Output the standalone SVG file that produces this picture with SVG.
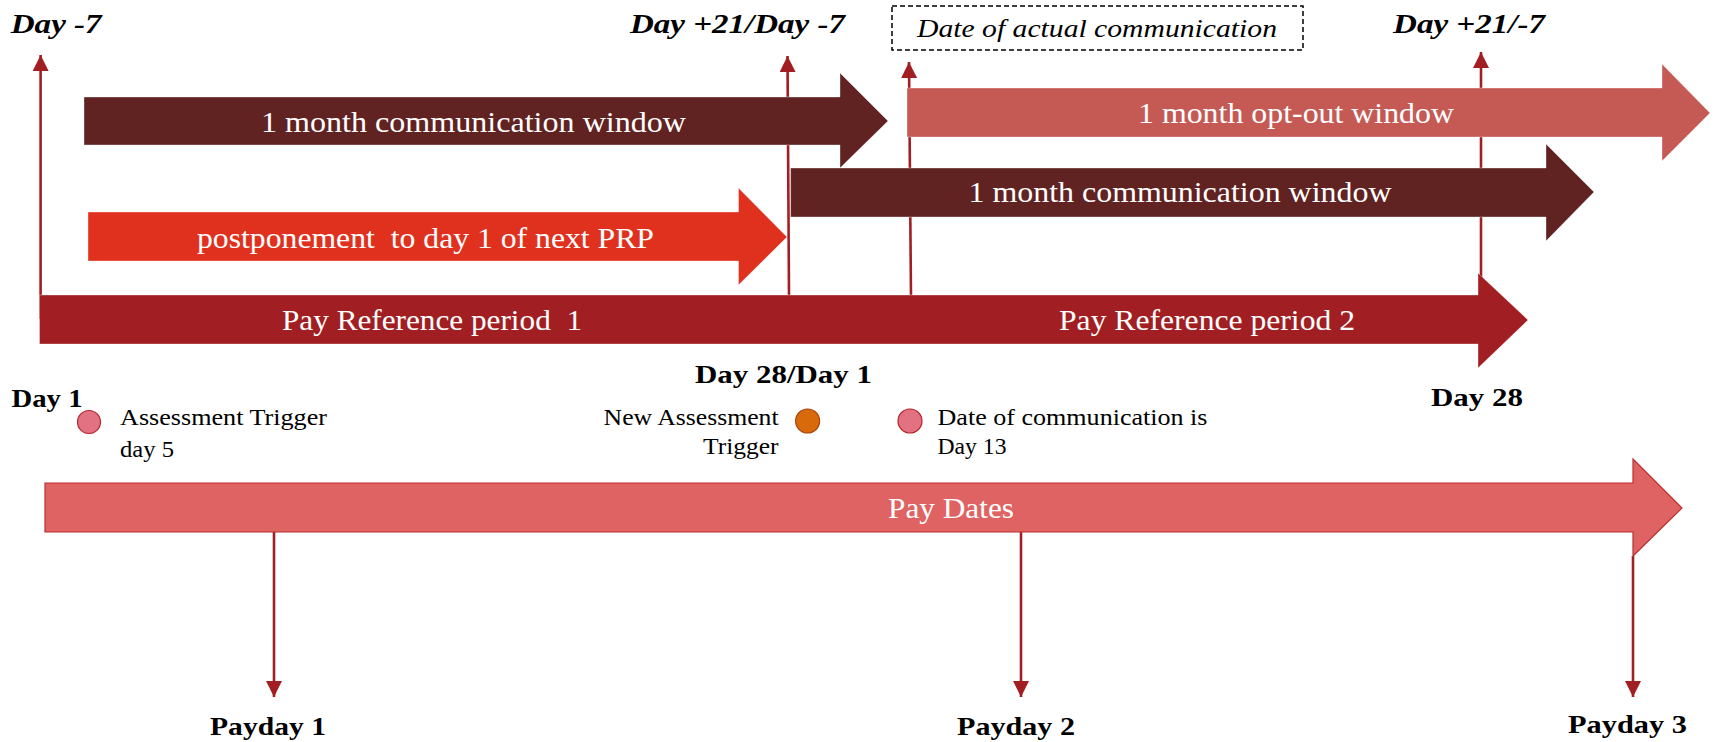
<svg xmlns="http://www.w3.org/2000/svg" width="1715" height="742" viewBox="0 0 1715 742">
  <defs>
    <marker id="tip" viewBox="0 0 16 16" refX="16" refY="8" markerWidth="16" markerHeight="16" markerUnits="userSpaceOnUse" orient="auto">
      <path d="M0,0 L16,8 L0,16 z" fill="#A11F22"/>
    </marker>
    <style>
      .conn { stroke: #A11F22; stroke-width: 2.6; fill: none; marker-end: url(#tip); }
      .bar { stroke: #ffffff; stroke-opacity: 0.35; stroke-width: 1; }
      .barText { font-family: "Liberation Serif", "Times New Roman", serif; font-size: 30px; fill: #ffffff; }
      .top { font-family: "Liberation Serif", "Times New Roman", serif; font-size: 28px; font-weight: bold; font-style: italic; fill: #000; }
      .day { font-family: "Liberation Serif", "Times New Roman", serif; font-size: 26px; font-weight: bold; fill: #000; }
      .note { font-family: "Liberation Serif", "Times New Roman", serif; font-size: 23px; fill: #000; }
      .dot { stroke-width: 1.2; }
    </style>
  </defs>
  <rect width="1715" height="742" fill="#ffffff"/>

  <!-- vertical markers and payday pointers -->
  <g id="connectors">
    <line class="conn" x1="40.6" y1="319" x2="40.6" y2="55"/>
    <line class="conn" x1="789" y1="295" x2="787.5" y2="56"/>
    <line class="conn" x1="911" y1="298" x2="909" y2="62"/>
    <line class="conn" x1="1481" y1="300" x2="1481" y2="52"/>
    <line class="conn" x1="274" y1="532" x2="274" y2="697"/>
    <line class="conn" x1="1021" y1="532" x2="1021" y2="697"/>
    <line class="conn" x1="1633" y1="556" x2="1633" y2="697"/>
  </g>

  <!-- timeline bars -->
  <g id="comm-window-1">
    <polygon class="bar" fill="#612222" points="84,97 840,97 840,73 888,121 840,168 840,145 84,145"/>
    <text class="barText" x="261" y="132" textLength="425" lengthAdjust="spacingAndGlyphs">1 month communication window</text>
  </g>
  <g id="postponement">
    <polygon class="bar" fill="#E0311F" points="88,212 738.5,212 738.5,188 787,237 738.5,285 738.5,261 88,261"/>
    <text class="barText" x="197" y="248" textLength="457" lengthAdjust="spacingAndGlyphs" xml:space="preserve">postponement  to day 1 of next PRP</text>
  </g>
  <g id="opt-out-window">
    <polygon class="bar" fill="#C55A55" points="907,88 1662,88 1662,64 1710,113 1662,161 1662,137 907,137"/>
    <text class="barText" x="1138" y="123" textLength="316" lengthAdjust="spacingAndGlyphs">1 month opt-out window</text>
  </g>
  <g id="comm-window-2">
    <polygon class="bar" fill="#612222" points="790.6,168 1546,168 1546,144 1594,192 1546,241 1546,217 790.6,217"/>
    <text class="barText" x="968.5" y="202" textLength="423" lengthAdjust="spacingAndGlyphs">1 month communication window</text>
  </g>
  <g id="pay-reference-periods">
    <polygon class="bar" fill="#A11F22" points="39.5,295 1478,295 1478,273 1528,320 1478,368 1478,344 39.5,344"/>
    <text class="barText" x="282" y="330" textLength="300" lengthAdjust="spacingAndGlyphs" xml:space="preserve">Pay Reference period  1</text>
    <text class="barText" x="1059" y="330" textLength="296" lengthAdjust="spacingAndGlyphs">Pay Reference period 2</text>
  </g>
  <g id="pay-dates">
    <polygon fill="#E06363" stroke="#B8302F" stroke-width="1.2" points="45,483 1633,483 1633,459 1682,508 1633,556 1633,532 45,532"/>
    <text class="barText" x="888" y="518" textLength="126" lengthAdjust="spacingAndGlyphs">Pay Dates</text>
  </g>

  <!-- day labels above the timeline -->
  <g id="label-day-minus7">
    <text class="top" x="10.7" y="33" textLength="91" lengthAdjust="spacingAndGlyphs">Day -7</text>
  </g>
  <g id="label-day21-day-minus7">
    <text class="top" x="630" y="33" textLength="215" lengthAdjust="spacingAndGlyphs">Day +21/Day -7</text>
  </g>
  <g id="label-actual-communication">
    <rect x="892" y="6" width="411" height="44" fill="none" stroke="#000" stroke-width="1.5" stroke-dasharray="5 3"/>
    <text x="917" y="37" font-family="Liberation Serif, Times New Roman, serif" font-size="26" font-style="italic" fill="#000" textLength="360" lengthAdjust="spacingAndGlyphs">Date of actual communication</text>
  </g>
  <g id="label-day21-minus7">
    <text class="top" x="1393" y="33" textLength="152" lengthAdjust="spacingAndGlyphs">Day +21/-7</text>
  </g>

  <!-- day labels below the timeline -->
  <g id="label-day1">
    <text class="day" x="11.5" y="407" font-size="25" textLength="71" lengthAdjust="spacingAndGlyphs">Day 1</text>
  </g>
  <g id="label-day28-day1">
    <text class="day" x="695" y="383" textLength="177" lengthAdjust="spacingAndGlyphs">Day 28/Day 1</text>
  </g>
  <g id="label-day28">
    <text class="day" x="1431" y="406" textLength="92" lengthAdjust="spacingAndGlyphs">Day 28</text>
  </g>

  <!-- trigger notes -->
  <g id="assessment-trigger">
    <circle class="dot" cx="89" cy="422" r="11.5" fill="#E27282" stroke="#B5262B"/>
    <text class="note" x="120" y="425" textLength="207" lengthAdjust="spacingAndGlyphs">Assessment Trigger</text>
    <text class="note" x="120" y="457" textLength="54" lengthAdjust="spacingAndGlyphs">day 5</text>
  </g>
  <g id="new-assessment-trigger">
    <circle class="dot" cx="807.6" cy="421" r="12" fill="#D96A0C" stroke="#A8450A"/>
    <text class="note" x="603.6" y="425" textLength="175" lengthAdjust="spacingAndGlyphs">New Assessment</text>
    <text class="note" x="703" y="454" textLength="75.6" lengthAdjust="spacingAndGlyphs">Trigger</text>
  </g>
  <g id="communication-date">
    <circle class="dot" cx="910" cy="421" r="12" fill="#E27282" stroke="#B5262B"/>
    <text class="note" x="937.5" y="425" textLength="270" lengthAdjust="spacingAndGlyphs">Date of communication is</text>
    <text class="note" x="937.5" y="454" textLength="69" lengthAdjust="spacingAndGlyphs">Day 13</text>
  </g>

  <!-- paydays -->
  <g id="payday-1">
    <text class="day" x="210" y="735" font-size="25" textLength="116" lengthAdjust="spacingAndGlyphs">Payday 1</text>
  </g>
  <g id="payday-2">
    <text class="day" x="957" y="735" font-size="25" textLength="118" lengthAdjust="spacingAndGlyphs">Payday 2</text>
  </g>
  <g id="payday-3">
    <text class="day" x="1568" y="733" font-size="25" textLength="119" lengthAdjust="spacingAndGlyphs">Payday 3</text>
  </g>
</svg>
